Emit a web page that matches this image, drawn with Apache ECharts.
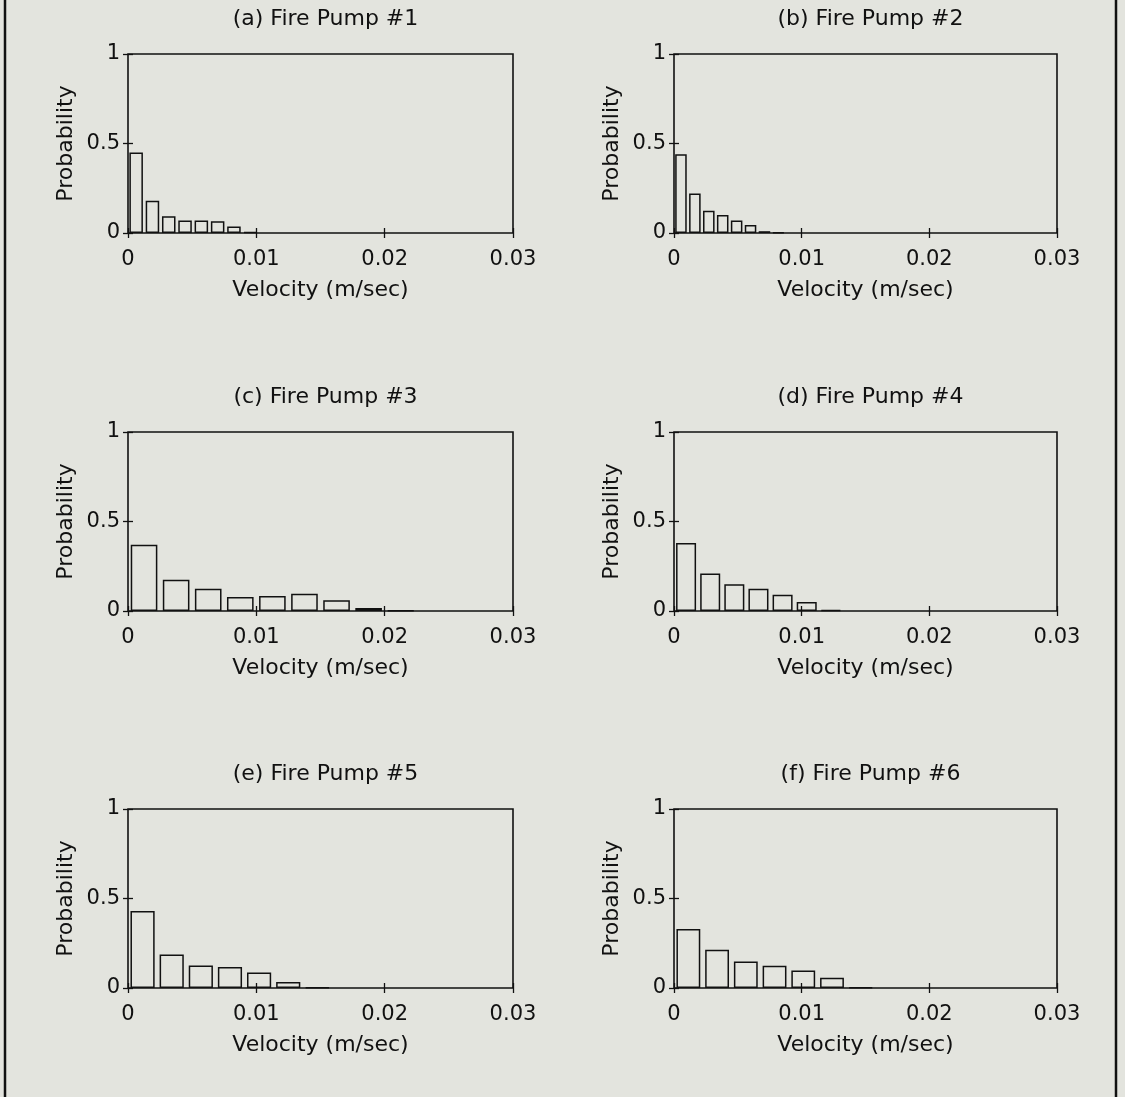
<!DOCTYPE html>
<html>
<head>
<meta charset="utf-8">
<script src="https://cdn.jsdelivr.net/npm/echarts@6/dist/echarts.min.js"></script>
<style>
  html, body { margin: 0; padding: 0; background: #e3e4de; }
  #chart { width: 1125px; height: 1097px; }
</style>
</head>
<body>
<div id="chart"></div>
<script>
// histogram bin widths (m/sec) and probabilities per pump
const titles = ['(a) Fire Pump #1', '(b) Fire Pump #2', '(c) Fire Pump #3',
                '(d) Fire Pump #4', '(e) Fire Pump #5', '(f) Fire Pump #6'];
const binWidths = [0.00127, 0.00109, 0.0025, 0.00189, 0.00227, 0.00225];
const pump1 = [0.45, 0.18, 0.093, 0.07, 0.07, 0.065, 0.037, 0.006];
const pump2 = [0.44, 0.22, 0.125, 0.10, 0.07, 0.045, 0.01, 0.003];
const pump3 = [0.37, 0.175, 0.125, 0.078, 0.084, 0.097, 0.06, 0.017, 0.003];
const pump4 = [0.38, 0.21, 0.15, 0.125, 0.091, 0.05, 0.005];
const pump5 = [0.43, 0.187, 0.126, 0.117, 0.087, 0.033, 0.004];
const pump6 = [0.33, 0.213, 0.148, 0.124, 0.098, 0.057, 0.004];
const xTicks = [0, 0.01, 0.02, 0.03];
const yTicks = [0, 0.5, 1];

const pumps = [pump1, pump2, pump3, pump4, pump5, pump6];

const chart = echarts.init(document.getElementById('chart'));

const FONT = 'DejaVu Sans';
const colLeft = [128, 674];
const colWidth = [385, 383];
const rowTop = [54, 432, 809];
const gridH = 179;

let grids = [], xAxes = [], yAxes = [], series = [], titleOpts = [];

pumps.forEach((vals, i) => {
    const c = i % 2, r = Math.floor(i / 2);
    grids.push({
        left: colLeft[c], top: rowTop[r], width: colWidth[c], height: gridH,
        show: true, borderColor: '#111', borderWidth: 1.6, backgroundColor: 'transparent'
    });
    titleOpts.push({
        text: titles[i],
        left: colLeft[c] + colWidth[c] / 2, top: rowTop[r] - 51,
        textAlign: 'center',
        textStyle: { fontFamily: FONT, fontSize: 22, fontWeight: 'normal', color: '#111' }
    });
    const tickStyle = { show: true, inside: true, length: 5, lineStyle: { color: '#111', width: 1.3 } };
    xAxes.push({
        type: 'value', gridIndex: i, min: 0, max: 0.03, interval: 0.01,
        axisLine: { show: false }, axisTick: tickStyle, splitLine: { show: false },
        axisLabel: { fontFamily: FONT, fontSize: 21, color: '#111', margin: 16,
            formatter: v => xTicks.includes(+v.toFixed(2)) ? String(+v.toFixed(2)) : '' },
        name: 'Velocity (m/sec)', nameLocation: 'middle', nameGap: 46,
        nameTextStyle: { fontFamily: FONT, fontSize: 22, color: '#111' }
    });
    xAxes.push({
        type: 'value', gridIndex: i, position: 'top', min: 0, max: 0.03, interval: 0.01,
        axisLine: { show: false }, axisTick: tickStyle, axisLabel: { show: false }, splitLine: { show: false }
    });
    yAxes.push({
        type: 'value', gridIndex: i, min: 0, max: 1, interval: 0.5,
        axisLine: { show: false }, axisTick: tickStyle, splitLine: { show: false },
        axisLabel: { fontFamily: FONT, fontSize: 21, color: '#111', margin: 8,
            formatter: v => yTicks.includes(v) ? String(v) : '' },
        name: 'Probability', nameLocation: 'middle', nameGap: 51,
        nameTextStyle: { fontFamily: FONT, fontSize: 22, color: '#111' }
    });
    yAxes.push({
        type: 'value', gridIndex: i, position: 'right', min: 0, max: 1, interval: 0.5,
        axisLine: { show: false }, axisTick: tickStyle, axisLabel: { show: false }, splitLine: { show: false }
    });
    const w = binWidths[i];
    series.push({
        type: 'bar', xAxisIndex: 2 * i, yAxisIndex: 2 * i,
        data: vals.map((v, k) => [(k + 0.5) * w, v]),
        barWidth: w / 0.03 * colWidth[c] * 0.83,
        itemStyle: { color: 'transparent', borderColor: '#111', borderWidth: 1.5 },
        silent: true
    });
});

chart.setOption({
    backgroundColor: '#e3e4de',
    animation: false,
    title: titleOpts,
    grid: grids,
    xAxis: xAxes,
    yAxis: yAxes,
    series: series,
    graphic: [
        { type: 'line', shape: { x1: 5, y1: 0, x2: 5, y2: 1097 }, style: { stroke: '#111', lineWidth: 2.5 } },
        { type: 'line', shape: { x1: 1116, y1: 0, x2: 1116, y2: 1097 }, style: { stroke: '#111', lineWidth: 2.5 } }
    ]
});
</script>
</body>
</html>
